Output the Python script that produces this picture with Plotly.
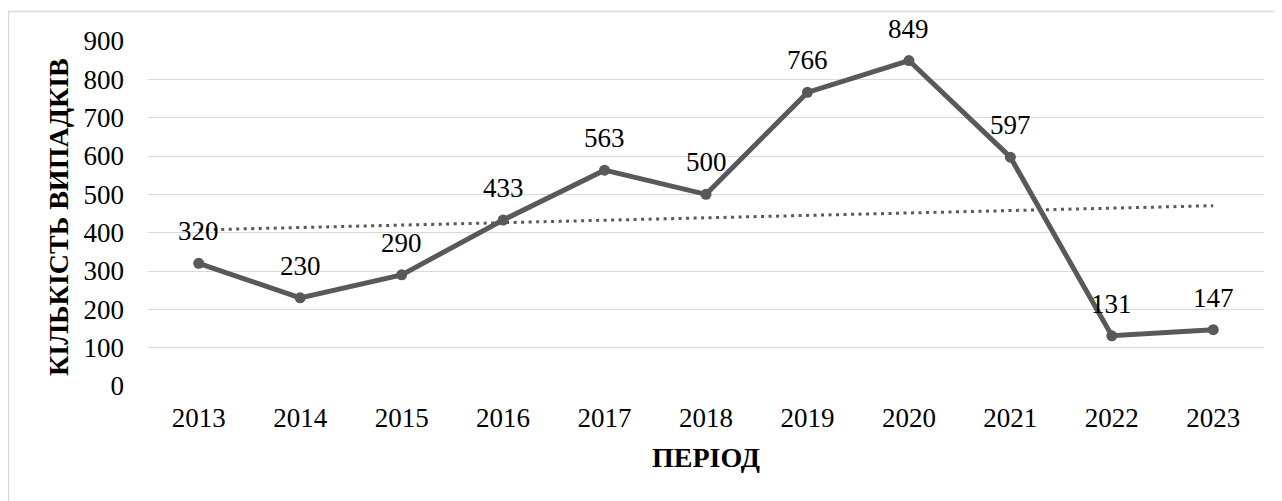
import numpy as np
import plotly.graph_objects as go

years = ["2013", "2014", "2015", "2016", "2017", "2018", "2019", "2020", "2021", "2022", "2023"]
cases = [320, 230, 290, 433, 563, 500, 766, 849, 597, 131, 147]
y_ticks = [0, 100, 200, 300, 400, 500, 600, 700, 800, 900]
x_title = "ПЕРІОД"
y_title = "КІЛЬКІСТЬ ВИПАДКІВ"

FONT = "'Liberation Serif', 'Times New Roman', Tinos, 'DejaVu Serif', serif"
FS = 27
FS_TITLE = 28
LINE_COLOR = "#595959"
GRID = "#d9d9d9"

# page offset of the figure (body margin)
OFF = 8
# plot area in page pixels
PX0, PX1, PY0, PY1 = 148, 1264, 41, 386
PW, PH = PX1 - PX0, PY1 - PY0


def px(x):
    return (x - PX0) / PW


def py(y):
    return (PY1 - y) / PH


# linear trendline (as Excel's linear trend)
idx = np.arange(len(cases))
slope, intercept = np.polyfit(idx, cases, 1)
trend = slope * idx + intercept

fig = go.Figure()
fig.add_trace(go.Scatter(
    x=years, y=trend, mode="lines",
    line=dict(color=LINE_COLOR, width=3, dash="3px,4.5px"),
    hoverinfo="skip", showlegend=False,
))
fig.add_trace(go.Scatter(
    x=years, y=cases, mode="lines+markers",
    line=dict(color=LINE_COLOR, width=5),
    marker=dict(color=LINE_COLOR, size=11),
    showlegend=False,
))

for i, v in enumerate(cases):
    fig.add_annotation(x=i, y=v, xref="x", yref="y", text=str(v), showarrow=False,
                       yshift=32, font=dict(family=FONT, size=FS, color="#000000"))

# axis titles
fig.add_annotation(xref="paper", yref="paper", x=0.5, y=py(457),
                   text="<b>" + x_title + "</b>", showarrow=False,
                   font=dict(family=FONT, size=FS_TITLE, color="#000000"),
                   xanchor="center", yanchor="middle")
fig.add_annotation(xref="paper", yref="paper", x=px(58), y=py(217),
                   text="<b>" + y_title + "</b>", showarrow=False, textangle=-90,
                   font=dict(family=FONT, size=FS_TITLE, color="#000000"),
                   xanchor="center", yanchor="middle")

# chart frame
fig.add_shape(type="rect", xref="paper", yref="paper",
              x0=px(8.5), x1=px(1300), y0=py(520), y1=py(11.5),
              line=dict(color="#d9d9d9", width=1.5), fillcolor="rgba(0,0,0,0)", layer="below")

W = 1282 - OFF
H = 501 - OFF
fig.update_layout(
    width=W, height=H,
    margin=dict(l=PX0 - OFF, r=W - (PX1 - OFF), t=PY0 - OFF, b=H - (PY1 - OFF)),
    paper_bgcolor="white", plot_bgcolor="white",
    font=dict(family=FONT, size=FS, color="#000000"),
    xaxis=dict(type="category", range=[-0.5, 10.5], showgrid=False, zeroline=False,
               showline=False, ticks="", ticklabelstandoff=13,
               tickfont=dict(family=FONT, size=FS, color="#000000")),
    yaxis=dict(range=[0, 900], tickvals=y_ticks, showgrid=True, gridcolor=GRID, gridwidth=1,
               zeroline=False, showline=False, ticks="", ticklabelstandoff=23,
               tickfont=dict(family=FONT, size=FS, color="#000000")),
)

fig.write_html("out.html")
